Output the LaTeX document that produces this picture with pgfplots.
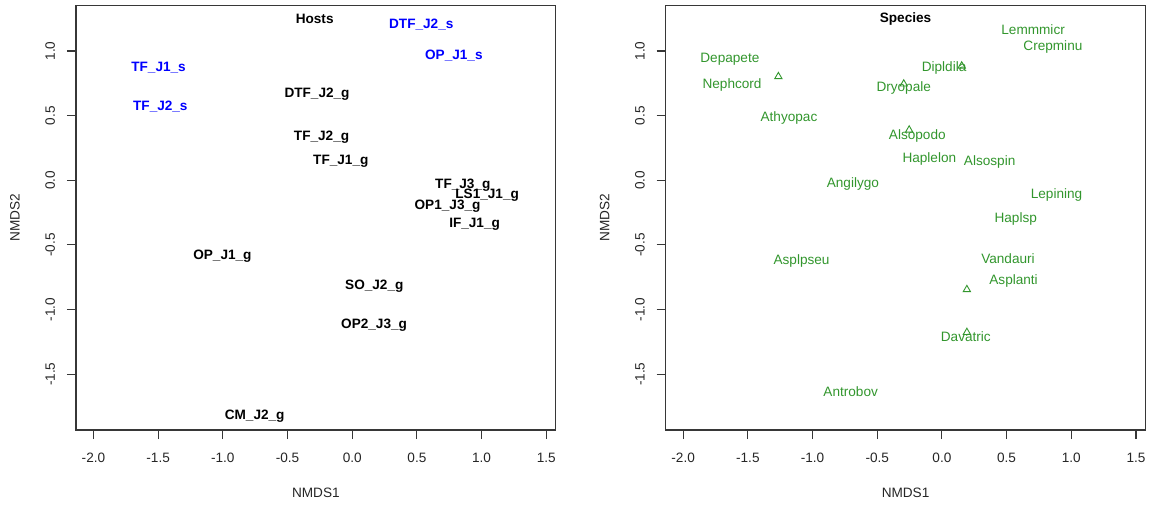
\documentclass[border=0pt]{standalone}
\usepackage{pgfplots}
\pgfplotsset{compat=1.18}
\usepackage{fontspec}
\setmainfont{Liberation Sans}
\definecolor{spgreen}{RGB}{50,150,45}
\definecolor{axgray}{RGB}{55,55,55}
\definecolor{hostblue}{RGB}{0,0,255}
\pgfplotsset{
  nmds/.style={
    scale only axis, width=239.85pt, height=212.15pt,
    xmin=-2.135, xmax=1.573, ymin=-1.931, ymax=1.350,
    xtick={-2,-1.5,-1,-0.5,0,0.5,1,1.5},
    ytick={-1.5,-1,-0.5,0,0.5,1},
    xtick pos=bottom, ytick pos=left,
    tick align=outside, major tick length=4.5pt,
    every tick/.style={axgray, line width=0.55pt},
    axis line style={axgray, line width=0.6pt},
    /pgf/number format/assume math mode=true,
    /pgf/number format/fixed, /pgf/number format/fixed zerofill,
    /pgf/number format/precision=1,
    ticklabel style={font=\fontsize{6.8}{8}\selectfont, text=black!85},
    xticklabel style={yshift=-3.5pt},
    yticklabel style={rotate=90, anchor=south, yshift=2.5pt},
    xlabel={NMDS1}, ylabel={NMDS2},
    label style={font=\fontsize{6.8}{8}\selectfont, text=black!85},
    xlabel style={at={(axis description cs:0.5,-0.1485)}, anchor=center},
    ylabel style={at={(axis description cs:-0.1272,0.5)}, anchor=center, rotate=0},
    clip=false,
  },
  lbl/.style={only marks, mark=none, point meta=explicit symbolic,
    nodes near coords,
    every node near coord/.append style={anchor=center, inner sep=0pt, yshift=-1pt, font=\fontsize{6.8}{8}\selectfont #1}},
}
\begin{document}
\begin{tikzpicture}[x=1pt,y=1pt]
\useasboundingbox (0,0) rectangle (576,252.5);
\begin{axis}[nmds, at={(38pt,37.5pt)}, anchor=south west]
\addplot[lbl=\bfseries, every node near coord/.append style={text=black}] coordinates {
(-0.272,0.678) [DTF\_J2\_g]
(-0.237,0.351) [TF\_J2\_g]
(-0.088,0.165) [TF\_J1\_g]
(0.855,-0.026) [TF\_J3\_g]
(1.043,-0.100) [LS1\_J1\_g]
(0.737,-0.183) [OP1\_J3\_g]
(0.946,-0.325) [IF\_J1\_g]
(-1.003,-0.575) [OP\_J1\_g]
(0.171,-0.800) [SO\_J2\_g]
(0.169,-1.106) [OP2\_J3\_g]
(-0.754,-1.806) [CM\_J2\_g]
};
\addplot[lbl=\bfseries, every node near coord/.append style={text=hostblue}] coordinates {
(0.534,1.219) [DTF\_J2\_s]
(0.786,0.982) [OP\_J1\_s]
(-1.497,0.887) [TF\_J1\_s]
(-1.483,0.582) [TF\_J2\_s]
};
\node[font=\fontsize{6.8}{8}\selectfont\bfseries, inner sep=0pt] at (axis cs:-0.29,1.247) {Hosts};
\end{axis}
\begin{axis}[nmds, at={(332.85pt,37.5pt)}, anchor=south west]
\addplot[only marks, mark=triangle, mark size=2.1pt, spgreen, mark options={line width=0.45pt}] coordinates {
(-1.264,0.802) (0.153,0.884) (-0.295,0.745) (-0.253,0.389) (0.193,-0.845) (0.193,-1.176)
};
\addplot[lbl=, every node near coord/.append style={text=spgreen}] coordinates {
(0.705,1.180) [Lemmmicr]
(0.858,1.046) [Crepminu]
(-1.639,0.948) [Depapete]
(-1.622,0.755) [Nephcord]
(0.017,0.884) [Dipldila]
(-0.295,0.732) [Dryopale]
(-1.182,0.497) [Athyopac]
(-0.190,0.356) [Alsopodo]
(-0.097,0.183) [Haplelon]
(0.369,0.157) [Alsospin]
(-0.688,-0.010) [Angilygo]
(0.886,-0.100) [Lepining]
(0.571,-0.281) [Haplsp]
(-1.085,-0.611) [Asplpseu]
(0.511,-0.593) [Vandauri]
(0.554,-0.767) [Asplanti]
(0.185,-1.194) [Davatric]
(-0.705,-1.617) [Antrobov]
};
\node[font=\fontsize{6.8}{8}\selectfont\bfseries, inner sep=0pt] at (axis cs:-0.281,1.247) {Species};
\end{axis}
\end{tikzpicture}
\end{document}
